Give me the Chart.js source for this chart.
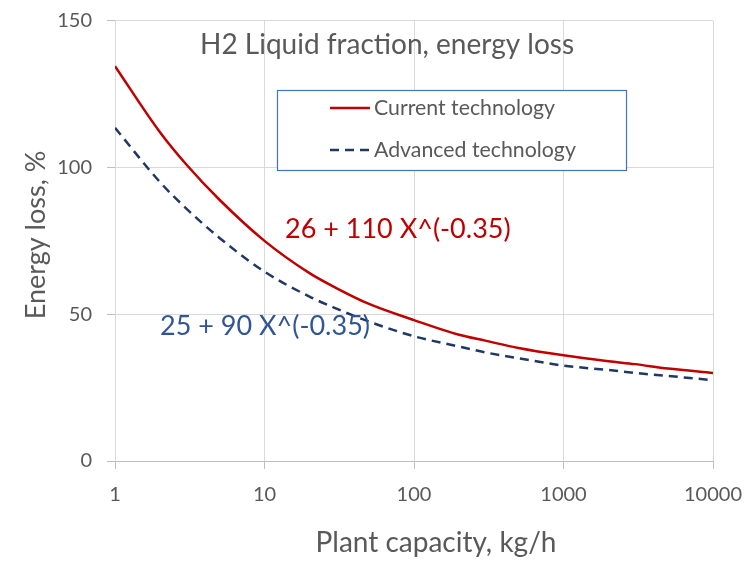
<!DOCTYPE html>
<html>
<head>
<meta charset="utf-8">
<script src="https://cdn.jsdelivr.net/npm/chart.js@4/dist/chart.umd.min.js"></script>
<style>
  html, body { margin: 0; padding: 0; background: #fff; }
</style>
</head>
<body>
<canvas id="chart" width="751" height="565"></canvas>
<script>
// values
const capacity = [1, 2, 3, 5, 10, 20, 30, 50, 100, 200, 300, 500, 1000, 2000, 3000, 5000, 10000];
const currentLoss = [134.5, 112, 101, 89, 75, 64, 59, 53.5, 48, 43, 41, 38.5, 36, 34, 33, 31.5, 30];
const advancedLoss = [113.5, 95, 86, 76, 64.5, 56, 52, 47.5, 42.5, 39, 37, 35, 32.5, 31, 30, 29, 27.5];
const xTicks = [1, 10, 100, 1000, 10000];
const yTicks = [0, 50, 100, 150];

const seriesNames = ["Current technology", "Advanced technology"];
const fitLabels = ["26 + 110 X^(-0.35)", "25 + 90 X^(-0.35)"];

const FONT = "Lato";
const GREY = "#595959";

function toPoints(xs, ys) {
  return xs.map((x, i) => ({ x: x, y: ys[i] }));
}

const overlay = {
  id: "overlay",
  afterDatasetsDraw(chart) {
    const ctx = chart.ctx;
    ctx.save();
    ctx.textBaseline = "middle";
    ctx.textAlign = "left";

    // title
    ctx.fillStyle = GREY;
    ctx.font = "28px " + FONT;
    ctx.fillText("H2 Liquid fraction, energy loss", 200, 45);

    // axis titles
    ctx.textAlign = "center";
    ctx.fillText("Plant capacity, kg/h", 436, 543);
    ctx.save();
    ctx.translate(36, 235);
    ctx.rotate(-Math.PI / 2);
    ctx.font = "27px " + FONT;
    ctx.fillText("Energy loss, %", 0, 0);
    ctx.restore();
    ctx.textAlign = "left";

    // fit labels
    ctx.font = "27px " + FONT;
    ctx.fillStyle = "#C00000";
    ctx.fillText(fitLabels[0], 285, 229);
    ctx.fillStyle = "#2F5597";
    ctx.fillText(fitLabels[1], 160, 326);

    // legend box
    ctx.fillStyle = "#fff";
    ctx.fillRect(277, 90, 349, 80);
    ctx.strokeStyle = "#4472C4";
    ctx.lineWidth = 1.2;
    ctx.strokeRect(277.5, 90.5, 349, 80);

    ctx.font = "21.3px " + FONT;
    chart.data.datasets.forEach((ds, i) => {
      const y = 108 + i * 42;
      ctx.strokeStyle = ds.borderColor;
      ctx.lineWidth = ds.borderWidth;
      ctx.setLineDash(ds.borderDash || []);
      ctx.beginPath();
      ctx.moveTo(330, y);
      ctx.lineTo(370, y);
      ctx.stroke();
      ctx.setLineDash([]);
      ctx.fillStyle = GREY;
      ctx.fillText(ds.label, 374, y);
    });
    ctx.restore();
  }
};

new Chart(document.getElementById("chart"), {
  type: "line",
  data: {
    datasets: [
      {
        label: seriesNames[0],
        data: toPoints(capacity, currentLoss),
        borderColor: "#C00000",
        borderWidth: 2.5,
        pointRadius: 0,
        cubicInterpolationMode: "monotone",
        fill: false,
      },
      {
        label: seriesNames[1],
        data: toPoints(capacity, advancedLoss),
        borderColor: "#1F3864",
        borderWidth: 2.5,
        borderDash: [9, 6],
        pointRadius: 0,
        cubicInterpolationMode: "monotone",
        fill: false,
      },
    ],
  },
  options: {
    responsive: false,
    animation: false,
    devicePixelRatio: 1,
    layout: { padding: { top: 20.7, right: 38, left: 0, bottom: 0 } },
    plugins: {
      legend: { display: false },
      tooltip: { enabled: false },
    },
    scales: {
      x: {
        type: "logarithmic",
        min: 1,
        max: 10000,
        afterBuildTicks: (scale) => {
          scale.ticks = xTicks.map((v) => ({ value: v }));
        },
        afterFit: (scale) => {
          scale.height = 104;
          scale.paddingLeft = 0;
          scale.paddingRight = 0;
        },
        grid: { color: "#D9D9D9", tickColor: "#BFBFBF", tickLength: 8 },
        border: { color: "#BFBFBF" },
        ticks: {
          color: GREY,
          font: { family: FONT, size: 20 },
          padding: 14,
          maxRotation: 0,
          callback: (v) => String(v),
        },
      },
      y: {
        min: 0,
        max: 150,
        afterBuildTicks: (scale) => {
          scale.ticks = yTicks.map((v) => ({ value: v }));
        },
        afterFit: (scale) => {
          scale.width = 115;
          scale.paddingTop = 0;
          scale.paddingBottom = 0;
        },
        grid: { color: "#D9D9D9", tickColor: "#BFBFBF", tickLength: 8 },
        border: { display: false },
        ticks: {
          color: GREY,
          font: { family: FONT, size: 20 },
          padding: 15,
        },
      },
    },
  },
  plugins: [overlay],
});
</script>
</body>
</html>
